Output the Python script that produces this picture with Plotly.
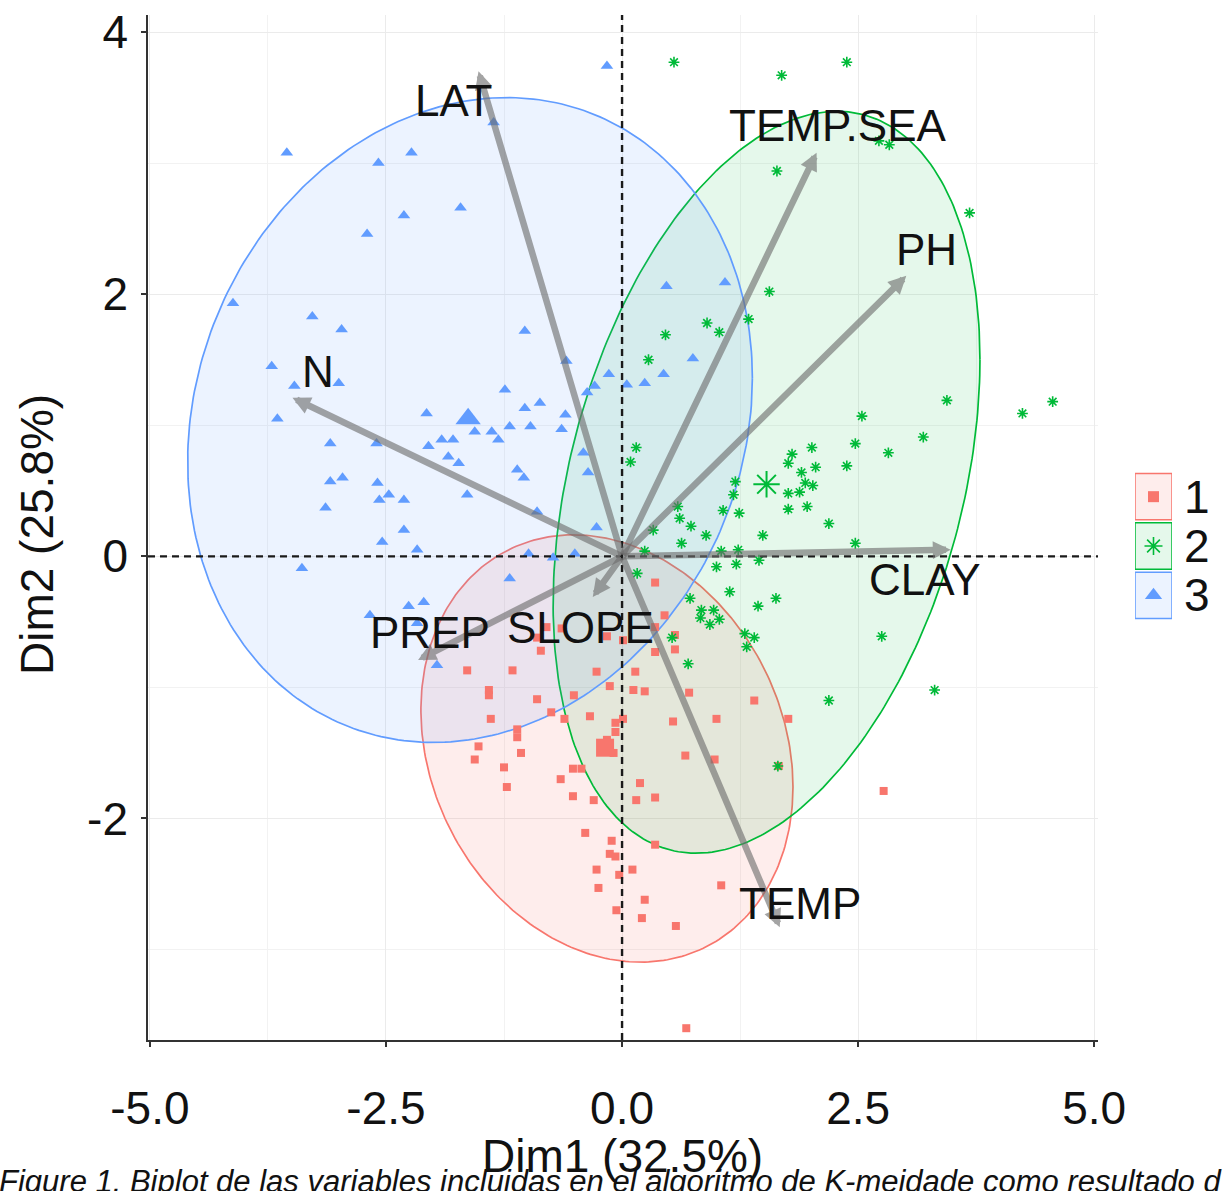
import numpy as np
import plotly.graph_objects as go

# ---------------- data ----------------
CLUSTER_NAMES = ["1", "2", "3"]
CLUSTER_COLORS = ["#F8766D", "#00BA38", "#619CFF"]
CLUSTER_FILLS = ["rgba(248,118,109,0.13)", "rgba(0,186,56,0.10)", "rgba(97,156,255,0.12)"]
CLUSTER_SYMBOLS = ["square", "asterisk-open", "triangle-up"]

# cluster 1 (red squares)
C1_X = [-1.64, -1.16, -1.41, -1.41, -0.90, -1.39, -0.86, -0.90, -0.80, -0.64, -0.27, -0.13, -0.51, -0.75,
        -0.61, -0.34, -1.11, -1.11, -1.52, -1.56, -1.07, -1.25, -1.22, -0.65, -0.52, -0.43, -0.52, -0.30,
        -0.07, 0.01, -0.07, -0.21, -0.09, -0.16, -0.39, -0.11, -0.13, -0.07, -0.27, 0.11, -0.03, -0.25,
        -0.06, 0.21, 0.24, 0.19, 0.15, 0.14, 0.12, 0.24, -0.16, 0.01, 0.35, 0.45, 0.35, 0.56, 0.35, 0.56,
        0.71, 1.40, 0.54, 1.00, 1.76, 0.67, 0.98, 1.66, 0.35, 2.77, 0.35, 1.05, 0.57, 0.68]
C1_Y = [-0.87, -0.87, -1.02, -1.06, -1.09, -1.24, -0.72, -0.62, -0.54, -0.55, -0.88, -0.99, -1.06, -1.19,
        -1.24, -1.22, -1.32, -1.38, -1.45, -1.55, -1.50, -1.61, -1.76, -1.70, -1.62, -1.62, -1.83, -1.86,
        -1.27, -1.24, -1.34, -1.45, -1.50, -1.40, -2.11, -2.17, -2.27, -2.29, -2.39, -2.39, -2.43, -2.53,
        -2.70, -2.76, -2.62, -1.73, -1.86, -0.88, -1.02, -1.03, -0.61, -0.64, -0.20, -0.45, -0.54, -0.60,
        -0.73, -0.71, -1.04, -1.10, -1.26, -1.24, -1.24, -1.52, -1.55, -1.60, -1.84, -1.79, -2.20, -2.51,
        -2.82, -3.60]

# cluster 2 (green asterisks)
C2_X = [0.55, 1.69, 2.38, 2.83, 2.72, 1.64, 3.68, 1.56, 1.34, 0.90, 1.03, 0.46, 0.28, 3.44, 4.24, 4.56,
        2.54, 3.19, 2.82, 2.47, 2.38, 2.01, 1.80, 1.76, 2.05, 1.90, 1.94, 2.02, 1.88, 1.76, 1.76, 1.96,
        2.19, 1.49, 0.15, 0.09, 1.20, 1.18, 1.24, 0.59, 0.61, 0.73, 0.89, 1.07, 0.33, 0.63, 0.24, 1.05,
        1.23, 1.45, 1.00, 1.21, 0.16, 1.14, 1.44, 1.63, 0.72, 0.84, 0.97, 0.83, 1.03, 0.93, 1.30, 1.40,
        1.32, 0.53, 0.70, 2.47, 2.75, 3.31, 2.19, 1.65]
C2_Y = [3.77, 3.67, 3.77, 3.14, 3.17, 2.94, 2.62, 2.02, 1.81, 1.78, 1.71, 1.69, 1.50, 1.19, 1.09, 1.18,
        1.07, 0.91, 0.79, 0.86, 0.69, 0.83, 0.78, 0.71, 0.68, 0.64, 0.56, 0.54, 0.49, 0.48, 0.36, 0.38,
        0.25, 0.16, 0.83, 0.72, 0.57, 0.47, 0.33, 0.38, 0.29, 0.23, 0.16, 0.35, 0.20, 0.10, 0.04, 0.04,
        0.05, -0.03, -0.08, -0.06, -0.13, -0.27, -0.38, -0.32, -0.32, -0.41, -0.41, -0.47, -0.48, -0.52,
        -0.59, -0.62, -0.69, -0.62, -0.82, 0.10, -0.61, -1.02, -1.10, -1.60]

# cluster 3 (blue triangles)
C3_X = [-0.16, -3.55, -2.58, -2.23, -1.36, -1.71, -2.31, -2.70, -4.12, -3.28, -2.97, -1.03, -3.71, -3.47,
        -3.00, -0.59, -0.14, -0.29, 0.05, 0.24, -0.37, -1.24, -3.65, -2.07, -1.56, -1.38, -1.03, -0.87,
        -0.60, -1.19, -0.97, -0.64, -1.31, -1.91, -1.79, -2.05, -3.09, -2.60, -1.84, -1.73, -0.41, -1.11,
        -1.04, -0.36, -3.09, -2.96, -2.59, -2.47, -2.57, -2.31, -1.64, -3.14, -0.90, -2.31, -0.27, -2.54,
        -2.17, -3.39, -0.99, -0.73, -0.50, -1.19, -2.67, -2.26, -2.10, -2.17, -1.96, 0.47, 1.09, 0.75, 0.44]
C3_Y = [3.74, 3.08, 3.00, 3.08, 3.31, 2.66, 2.60, 2.46, 1.93, 1.83, 1.73, 1.72, 1.45, 1.30,
        1.32, 1.49, 1.39, 1.30, 1.31, 1.32, 1.25, 1.27, 1.05, 1.09, 0.95, 0.95, 1.13, 1.17,
        1.08, 0.99, 0.99, 0.97, 0.89, 0.89, 0.89, 0.84, 0.86, 0.86, 0.76, 0.71, 0.79, 0.66,
        0.60, 0.64, 0.57, 0.60, 0.56, 0.47, 0.43, 0.43, 0.47, 0.37, 0.34, 0.20, 0.22, 0.11,
        0.05, -0.09, 0.02, -0.01, 0.02, -0.17, -0.45, -0.38, -0.35, -0.51, -0.83, 2.06, 2.09, 1.51, 1.39]

CENTROID_X = [-0.18, 1.53, -1.63]
CENTROID_Y = [-1.46, 0.55, 1.05]

# concentration ellipses: centre, half-extent in x / y, and coupling (tilt)
ELL_CX = [-0.16, 1.53, -1.61]
ELL_CY = [-1.466, 0.565, 1.04]
ELL_RX = [1.97, 2.26, 2.99]
ELL_RY = [1.63, 2.83, 2.46]
ELL_TILT = [-0.18, 0.33, 0.13]

# variable loadings (arrows)
VAR_NAMES = ["LAT", "N", "TEMP.SEA", "PH", "CLAY", "TEMP", "PREP", "SLOPE"]
VAR_X = [-1.52, -3.49, 2.06, 3.01, 3.48, 1.67, -2.16, -0.31]
VAR_Y = [3.70, 1.21, 3.08, 2.14, 0.05, -2.83, -0.79, -0.31]
LABEL_X = [-1.79, -3.22, 2.28, 3.22, 3.21, 1.88, -2.03, -0.44]
LABEL_Y = [3.48, 1.41, 3.29, 2.34, -0.18, -2.65, -0.58, -0.54]

X_TICKS = [-5.0, -2.5, 0.0, 2.5, 5.0]
X_TICK_TEXT = ["-5.0", "-2.5", "0.0", "2.5", "5.0"]
Y_TICKS = [-2, 0, 2, 4]
Y_TICK_TEXT = ["-2", "0", "2", "4"]

X_TITLE = "Dim1 (32.5%)"
Y_TITLE = "Dim2 (25.8%)"
CAPTION = "Figure 1. Biplot de las variables incluidas en el algoritmo de K-meidade como resultado d"

FONT = "Liberation Sans, Arial, Helvetica, sans-serif"

# ---------------- figure ----------------
fig = go.Figure()

t = np.linspace(0, 2 * np.pi, 300)
for i in range(3):
    d = np.arccos(ELL_TILT[i])
    ex = ELL_CX[i] + ELL_RX[i] * np.cos(t)
    ey = ELL_CY[i] + ELL_RY[i] * np.cos(t - d)
    fig.add_trace(go.Scatter(x=ex, y=ey, mode="lines", fill="toself",
                             fillcolor=CLUSTER_FILLS[i],
                             line=dict(color=CLUSTER_COLORS[i], width=1.7),
                             hoverinfo="skip", showlegend=False))

pts = [(C1_X, C1_Y), (C2_X, C2_Y), (C3_X, C3_Y)]
sizes = [8, 9, 11]
for i, (px, py) in enumerate(pts):
    mk = dict(symbol=CLUSTER_SYMBOLS[i], size=sizes[i], color=CLUSTER_COLORS[i],
              line=dict(color=CLUSTER_COLORS[i], width=1.6 if i == 1 else 0))
    fig.add_trace(go.Scatter(x=px, y=py, mode="markers", marker=mk, name=CLUSTER_NAMES[i],
                             showlegend=False))
    mkc = dict(symbol=CLUSTER_SYMBOLS[i], size=[18, 22, 22][i], color=CLUSTER_COLORS[i],
               line=dict(color=CLUSTER_COLORS[i], width=2 if i == 1 else 0))
    fig.add_trace(go.Scatter(x=[CENTROID_X[i]], y=[CENTROID_Y[i]], mode="markers", marker=mkc,
                             showlegend=False, hoverinfo="skip"))

annotations = []
for name, vx, vy, lx, ly in zip(VAR_NAMES, VAR_X, VAR_Y, LABEL_X, LABEL_Y):
    annotations.append(dict(x=vx, y=vy, ax=0, ay=0, xref="x", yref="y", axref="x", ayref="y",
                            text="", showarrow=True, arrowhead=2, arrowsize=0.55, arrowwidth=6.5,
                            arrowcolor="rgba(110,110,110,0.62)", standoff=0, startstandoff=0))
    annotations.append(dict(x=lx, y=ly, xref="x", yref="y", text=name, showarrow=False,
                            font=dict(family=FONT, size=44, color="#111111")))

# paper geometry
L, R, T, B = 148, 5, 15, 151
W, H = 1225, 1191
PW, PH = W - L - R, H - T - B


def pxp(px):
    return (px - L) / PW


def pyp(py):
    return (H - B - py) / PH


# caption then axis titles
annotations.append(dict(x=pxp(-3), y=pyp(1162), xref="paper", yref="paper", xanchor="left",
                        yanchor="top", text="<i>" + CAPTION + "</i>", showarrow=False,
                        font=dict(family=FONT, size=31, color="#111111")))
annotations.append(dict(x=pxp(622), y=pyp(1156), xref="paper", yref="paper", xanchor="center",
                        yanchor="middle", text=X_TITLE, showarrow=False,
                        font=dict(family=FONT, size=46, color="#111111")))
annotations.append(dict(x=pxp(37), y=pyp(535), xref="paper", yref="paper", xanchor="center",
                        yanchor="middle", text=Y_TITLE, textangle=-90, showarrow=False,
                        font=dict(family=FONT, size=46, color="#111111")))

# zero reference lines
shapes = [
    dict(type="line", xref="x", yref="paper", x0=0, x1=0, y0=0, y1=1,
         line=dict(color="#1a1a1a", width=2.4, dash="7px,5px"), layer="above"),
    dict(type="line", xref="x domain", yref="y", x0=0, x1=1, y0=0, y1=0,
         line=dict(color="#1a1a1a", width=2.4, dash="7px,5px"), layer="above"),
]
# legend (manual keys on helper axes)
for i in range(3):
    shapes.append(dict(type="rect", xref="x2", yref="y2", x0=-1, x1=1, y0=i - 0.47, y1=i + 0.47,
                       fillcolor=CLUSTER_FILLS[i],
                       line=dict(color=CLUSTER_COLORS[i], width=1.5), layer="below"))
    mk = dict(symbol=CLUSTER_SYMBOLS[i], size=[11, 15, 15][i], color=CLUSTER_COLORS[i],
              line=dict(color=CLUSTER_COLORS[i], width=1.6 if i == 1 else 0))
    fig.add_trace(go.Scatter(x=[0], y=[i], xaxis="x2", yaxis="y2", mode="markers", marker=mk,
                             showlegend=False, hoverinfo="skip"))
    annotations.append(dict(x=pxp(1197), y=i, xref="paper", yref="y2", text=CLUSTER_NAMES[i],
                            showarrow=False, xanchor="center", yanchor="middle",
                            font=dict(family=FONT, size=46, color="#111111")))

grid = "#EBEBEB"
fig.update_layout(
    width=W, height=H, autosize=False,
    margin=dict(l=L, r=R, t=T, b=B, pad=0),
    paper_bgcolor="white", plot_bgcolor="white",
    font=dict(family=FONT, color="#111111"),
    showlegend=False,
    xaxis=dict(domain=[0, pxp(1098)], range=[-5.02, 5.04], tickvals=X_TICKS, ticktext=X_TICK_TEXT,
               automargin=False,
               showgrid=True, gridcolor=grid, gridwidth=1.2, zeroline=False,
               showline=True, linecolor="#333333", linewidth=1.6,
               ticks="outside", ticklen=5, tickwidth=1.5, tickcolor="#333333",
               tickfont=dict(family=FONT, size=46, color="#111111"), ticklabelstandoff=22,
               minor=dict(tickvals=[-3.75, -1.25, 1.25, 3.75], showgrid=True, gridcolor="#F2F2F2",
                          gridwidth=1, ticks=""),
               fixedrange=True),
    yaxis=dict(domain=[0, 1], range=[-3.69, 4.13], tickvals=Y_TICKS, ticktext=Y_TICK_TEXT,
               automargin=False,
               showgrid=True, gridcolor=grid, gridwidth=1.2, zeroline=False,
               showline=True, linecolor="#333333", linewidth=1.6,
               ticks="outside", ticklen=5, tickwidth=1.5, tickcolor="#333333",
               tickfont=dict(family=FONT, size=46, color="#111111"), ticklabelstandoff=4,
               minor=dict(tickvals=[-3, -1, 1, 3], showgrid=True, gridcolor="#F2F2F2",
                          gridwidth=1, ticks=""),
               fixedrange=True),
    xaxis2=dict(domain=[pxp(1135), pxp(1172)], range=[-1, 1], visible=False, anchor="y2",
                automargin=False, fixedrange=True),
    yaxis2=dict(domain=[pyp(620), pyp(472)], range=[2.5, -0.5], visible=False, anchor="x2",
                automargin=False, fixedrange=True),
    shapes=shapes,
    annotations=annotations,
)

fig.write_html(
    "out.html",
    config={"displayModeBar": False, "staticPlot": False},
    post_script="document.body.style.margin='0px';document.body.style.overflow='hidden';",
)
